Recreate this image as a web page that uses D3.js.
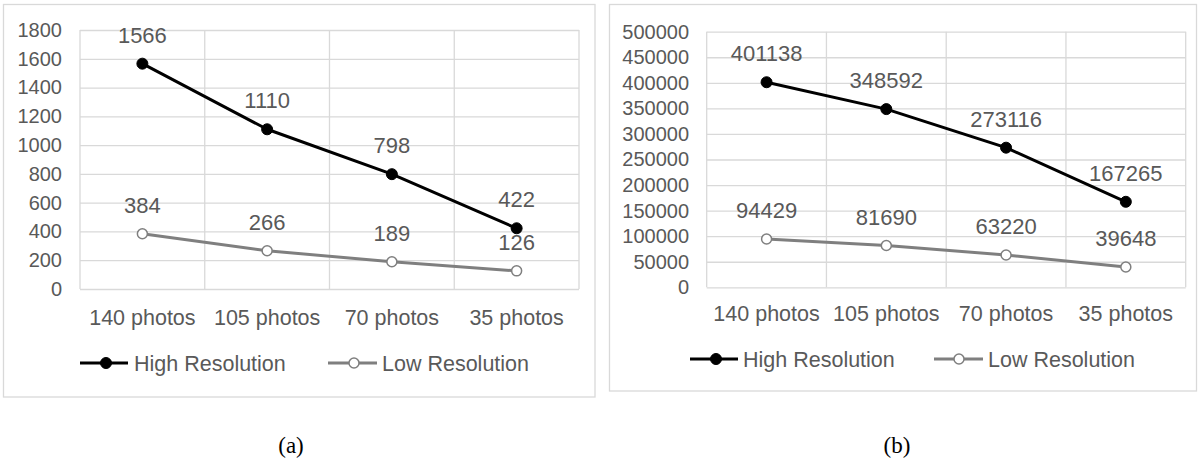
<!DOCTYPE html>
<html><head><meta charset="utf-8">
<script src="https://cdn.jsdelivr.net/npm/d3@7"></script>
<style>
html,body{margin:0;padding:0;background:#fff;}
svg{display:block;}
</style></head>
<body>
<svg id="chart" width="1198" height="469"></svg>
<script>
const categories = ["140 photos", "105 photos", "70 photos", "35 photos"];
const seriesNames = ["High Resolution", "Low Resolution"];
const highA = [1566, 1110, 798, 422];
const lowA = [384, 266, 189, 126];
const highB = [401138, 348592, 273116, 167265];
const lowB = [94429, 81690, 63220, 39648];
const ticksA = [0, 200, 400, 600, 800, 1000, 1200, 1400, 1600, 1800];
const ticksB = [0, 50000, 100000, 150000, 200000, 250000, 300000, 350000, 400000, 450000, 500000];
const captions = ["(a)", "(b)"];

const svg = d3.select("#chart");
const FONT = "'Liberation Sans', Arial, sans-serif";
const TXT = "#595959";
const GRID = "#d9d9d9";
const colors = ["#000000", "#7f7f7f"];

const panels = [
  {frame:[3.5,4.5,595,397], plot:{l:80,r:579,t:30,b:289}, ymax:1800, ticks:ticksA, high:highA, low:lowA,
   ytickRight:62, xlabY:325, legY:363, leg:[{x0:80,x1:128,m:106,tx:134},{x0:328,x1:377,m:354,tx:382}], cap:{x:291,y:453}, capText:captions[0]},
  {frame:[609.5,4.5,1196.5,391], plot:{l:706.7,r:1185.7,t:31.7,b:287.3}, ymax:500000, ticks:ticksB, high:highB, low:lowB,
   ytickRight:689, xlabY:321, legY:359, leg:[{x0:690,x1:738,m:716,tx:743},{x0:934,x1:983,m:959,tx:988}], cap:{x:897,y:453}, capText:captions[1]}
];

panels.forEach(p => {
  const g = svg.append("g");
  const [fx0,fy0,fx1,fy1] = p.frame;
  g.append("rect").attr("x",fx0).attr("y",fy0).attr("width",fx1-fx0).attr("height",fy1-fy0)
    .attr("fill","#fff").attr("stroke",GRID).attr("stroke-width",1.3);

  const x = d3.scaleBand().domain(categories).range([p.plot.l,p.plot.r]).padding(0);
  const y = d3.scaleLinear().domain([0,p.ymax]).range([p.plot.b,p.plot.t]);
  const cx = c => x(c) + x.bandwidth()/2;

  const yAxis = d3.axisLeft(y).tickValues(p.ticks).tickSize(-(p.plot.r-p.plot.l)).tickPadding(p.plot.l-p.ytickRight).tickFormat(d3.format("d"));
  const ya = g.append("g").attr("transform",`translate(${p.plot.l},0)`).call(yAxis);
  ya.select(".domain").remove();
  ya.selectAll(".tick line").attr("stroke",GRID).attr("stroke-width",1.3);
  ya.selectAll(".tick text").attr("fill",TXT).style("font-family",FONT).style("font-size","20px");

  const bounds = categories.map(c => x(c)).concat([p.plot.r]);
  g.selectAll(".vg").data(bounds).enter().append("line")
    .attr("x1",d=>d).attr("x2",d=>d).attr("y1",p.plot.t).attr("y2",p.plot.b)
    .attr("stroke",GRID).attr("stroke-width",1.3);

  g.selectAll(".xl").data(categories).enter().append("text")
    .attr("x",d=>cx(d)).attr("y",p.xlabY).attr("text-anchor","middle")
    .attr("fill",TXT).style("font-family",FONT).style("font-size","21.5px").text(d=>d);

  const series = [p.high, p.low];
  series.forEach((vals,si) => {
    const line = d3.line().x((d,i)=>cx(categories[i])).y(d=>y(d));
    g.append("path").datum(vals).attr("d",line).attr("fill","none")
      .attr("stroke",colors[si]).attr("stroke-width",3).attr("stroke-linejoin","round");
    g.selectAll(".m"+si).data(vals).enter().append("circle")
      .attr("cx",(d,i)=>cx(categories[i])).attr("cy",d=>y(d))
      .attr("r", si===0 ? 5.5 : 5)
      .attr("fill", si===0 ? "#000" : "#fff")
      .attr("stroke", colors[si]).attr("stroke-width", si===0 ? 1 : 1.5);
    g.selectAll(".l"+si).data(vals).enter().append("text")
      .attr("x",(d,i)=>cx(categories[i])).attr("y",d=>y(d)-21).attr("text-anchor","middle")
      .attr("fill",TXT).style("font-family",FONT).style("font-size","22px").text(d=>d);
  });

  p.leg.forEach((L,si) => {
    g.append("line").attr("x1",L.x0).attr("x2",L.x1).attr("y1",p.legY).attr("y2",p.legY)
      .attr("stroke",colors[si]).attr("stroke-width",3);
    g.append("circle").attr("cx",L.m).attr("cy",p.legY).attr("r",si===0?5.5:5)
      .attr("fill",si===0?"#000":"#fff").attr("stroke",colors[si]).attr("stroke-width",si===0?1:1.5);
    g.append("text").attr("x",L.tx).attr("y",p.legY).attr("dy","0.35em")
      .attr("fill",TXT).style("font-family",FONT).style("font-size","21.5px").text(seriesNames[si]);
  });

  svg.append("text").attr("x",p.cap.x).attr("y",p.cap.y).attr("text-anchor","middle")
    .attr("fill","#000").style("font-family","'Liberation Serif','Times New Roman',serif").style("font-size","23px").text(p.capText);
});
</script>
</body></html>
